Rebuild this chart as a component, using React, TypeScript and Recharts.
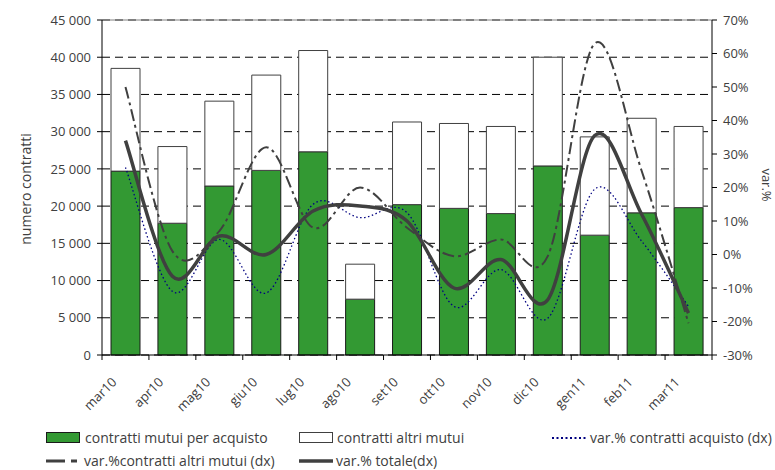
import React from 'react';
import { ComposedChart, Bar, Line, XAxis, YAxis, CartesianGrid, ReferenceLine } from 'recharts';

const months = ['mar10', 'apr10', 'mag10', 'giu10', 'lug10', 'ago10', 'set10', 'ott10', 'nov10', 'dic10', 'gen11', 'feb11', 'mar11'];
const contrattiAcquisto = [24700, 17700, 22700, 24800, 27300, 7500, 20200, 19700, 19000, 25400, 16100, 19100, 19800];
const contrattiAltri = [13800, 10300, 11400, 12800, 13600, 4700, 11100, 11400, 11700, 14600, 13200, 12700, 10900];
const varAcquisto = [26, -11, 4.5, -11.5, 15, 11, 12.5, -15.5, -4.5, -19, 19.5, 4, -15.5];
const varAltri = [50, 1, 7, 32, 8, 20, 8, -0.5, 4.5, -0.5, 63, 25, -20.5];
const varTotale = [34, -6.5, 5.5, 0, 13, 14.5, 10, -10, -1.5, -13.5, 35.5, 12, -17.5];
const leftTicks = [0, 5000, 10000, 15000, 20000, 25000, 30000, 35000, 40000, 45000];
const rightTicks = [-30, -20, -10, 0, 10, 20, 30, 40, 50, 60, 70];

const data = months.map((m, i) => ({
  month: m,
  acq: contrattiAcquisto[i],
  altri: contrattiAltri[i],
  vAcq: varAcquisto[i],
  vAltri: varAltri[i],
  vTot: varTotale[i],
}));

const FONT = "'Open Sans', sans-serif";
const TXT = '#404040';

// Excel-like smoothing (Catmull-Rom style bezier)
const excelCurve = (context: any) => {
  let pts: number[][] = [];
  return {
    areaStart() {},
    areaEnd() {},
    lineStart() { pts = []; },
    point(x: number, y: number) { pts.push([+x, +y]); },
    lineEnd() {
      const n = pts.length;
      if (!n) return;
      context.moveTo(pts[0][0], pts[0][1]);
      for (let i = 0; i < n - 1; i++) {
        const p0 = pts[i - 1] || pts[i];
        const p1 = pts[i];
        const p2 = pts[i + 1];
        const p3 = pts[i + 2] || p2;
        context.bezierCurveTo(
          p1[0] + (p2[0] - p0[0]) / 6, p1[1] + (p2[1] - p0[1]) / 6,
          p2[0] - (p3[0] - p1[0]) / 6, p2[1] - (p3[1] - p1[1]) / 6,
          p2[0], p2[1]
        );
      }
    },
  };
};

const CHART_W = 775;
const LEFT_W = 102;
const RIGHT_W = 63;
const BAND = (CHART_W - LEFT_W - RIGHT_W) / months.length;

const fmtLeft = (v: number) => String(v).replace(/\B(?=(\d{3})+(?!\d))/g, ' ');
const fmtRight = (v: number) => `${v}%`;

const XTick = (props: any) => {
  const { x, y, payload, index } = props;
  const ax = x - 8;
  const ay = y + 28;
  return (
    <g>
      <line x1={x - BAND / 2} x2={x - BAND / 2} y1={y} y2={y + 5} stroke="#000" />
      {index === months.length - 1 && (
        <line x1={x + BAND / 2} x2={x + BAND / 2} y1={y} y2={y + 5} stroke="#000" />
      )}
      <text
        x={ax}
        y={ay}
        transform={`rotate(-45, ${ax}, ${ay})`}
        textAnchor="end"
        fontSize={13}
        fontFamily={FONT}
        fill={TXT}
      >
        {payload.value}
      </text>
    </g>
  );
};

const legendText: React.CSSProperties = {
  position: 'absolute',
  fontFamily: FONT,
  fontSize: 14,
  color: TXT,
  lineHeight: '16px',
  whiteSpace: 'nowrap',
};

const Swatch = ({ left, top, children }: any) => (
  <svg style={{ position: 'absolute', left, top }} width={36} height={12}>
    {children}
  </svg>
);

export default function App() {
  return (
    <div style={{ position: 'absolute', left: 0, top: 0, width: 775, height: 470, background: '#fff', overflow: 'hidden' }}>
      <ComposedChart
        width={CHART_W}
        height={420}
        data={data}
        margin={{ top: 20, right: 0, bottom: 0, left: 0 }}
      >
        <CartesianGrid yAxisId="left" vertical={false} stroke="#000" strokeDasharray="8 5" />
        <XAxis
          dataKey="month"
          height={65}
          interval={0}
          tickSize={0}
          tickMargin={0}
          tickLine={false}
          axisLine={{ stroke: '#000' }}
          tick={<XTick />}
        />
        <YAxis
          yAxisId="left"
          width={LEFT_W}
          domain={[0, 45000]}
          ticks={leftTicks}
          interval={0}
          tickFormatter={fmtLeft}
          tickSize={5}
          tickMargin={6}
          axisLine={{ stroke: '#000' }}
          tickLine={{ stroke: '#000' }}
          tick={{ fontSize: 13, fontFamily: FONT, fill: TXT }}
        />
        <YAxis
          yAxisId="right"
          orientation="right"
          width={RIGHT_W}
          domain={[-30, 70]}
          ticks={rightTicks}
          interval={0}
          tickFormatter={fmtRight}
          tickSize={5}
          tickMargin={6}
          axisLine={{ stroke: '#000' }}
          tickLine={{ stroke: '#000' }}
          tick={{ fontSize: 13, fontFamily: FONT, fill: TXT, textAnchor: 'start' }}
        />
        <ReferenceLine yAxisId="left" y={45000} stroke="#808080" strokeWidth={1} />
        <Bar yAxisId="left" dataKey="acq" stackId="s" fill="#339933" stroke="#1a1a1a" strokeWidth={1} barSize={29} isAnimationActive={false} />
        <Bar yAxisId="left" dataKey="altri" stackId="s" fill="#ffffff" stroke="#404040" strokeWidth={1} barSize={29} isAnimationActive={false} />
        <Line yAxisId="right" dataKey="vAcq" type={excelCurve as any} stroke="#000080" strokeWidth={1.3} strokeDasharray="1.5 2.5" dot={false} isAnimationActive={false} />
        <Line yAxisId="right" dataKey="vAltri" type={excelCurve as any} stroke="#404040" strokeWidth={2} strokeDasharray="12 4 3 4" dot={false} isAnimationActive={false} />
        <Line yAxisId="right" dataKey="vTot" type={excelCurve as any} stroke="#404040" strokeWidth={3.5} dot={false} isAnimationActive={false} />
      </ComposedChart>

      <div style={{ ...legendText, left: 26, top: 189, transform: 'translate(-50%, -50%) rotate(-90deg)' }}>
        numero contratti
      </div>
      <div style={{ ...legendText, fontSize: 13, left: 767, top: 185, transform: 'translate(-50%, -50%) rotate(90deg)' }}>var.%</div>

      <Swatch left={46} top={432}>
        <rect x={0.5} y={0.5} width={33} height={10} fill="#339933" stroke="#1a1a1a" />
      </Swatch>
      <div style={{ ...legendText, left: 85, top: 430 }}>contratti mutui per acquisto</div>

      <Swatch left={299} top={432}>
        <rect x={0.5} y={0.5} width={33} height={10} fill="#fff" stroke="#404040" />
      </Swatch>
      <div style={{ ...legendText, left: 337, top: 430 }}>contratti altri mutui</div>

      <Swatch left={551} top={432}>
        <line x1={1} x2={35} y1={6} y2={6} stroke="#000080" strokeWidth={2} strokeDasharray="2 2.5" />
      </Swatch>
      <div style={{ ...legendText, left: 590, top: 430 }}>var.% contratti acquisto (dx)</div>

      <Swatch left={46} top={455}>
        <line x1={0} x2={34} y1={6} y2={6} stroke="#404040" strokeWidth={3} strokeDasharray="19 6 6 6" />
      </Swatch>
      <div style={{ ...legendText, left: 84, top: 453 }}>var.%contratti altri mutui (dx)</div>

      <Swatch left={299} top={455}>
        <line x1={0} x2={34} y1={6} y2={6} stroke="#404040" strokeWidth={3.5} />
      </Swatch>
      <div style={{ ...legendText, left: 336, top: 453 }}>var.% totale(dx)</div>
    </div>
  );
}
